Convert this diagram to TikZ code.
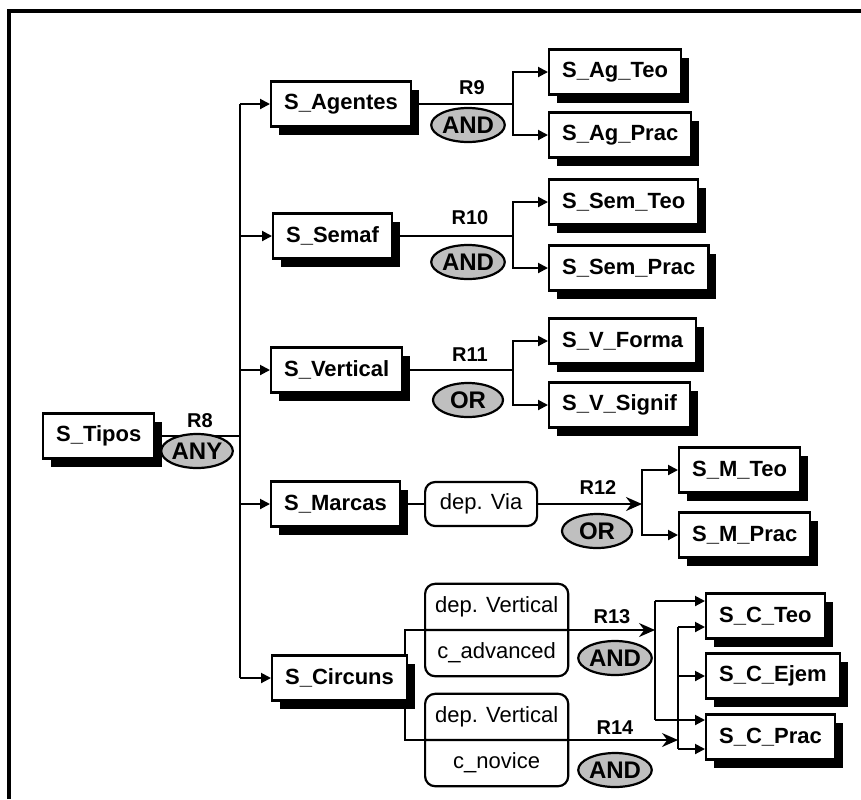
\documentclass[tikz,border=0pt]{standalone}
\usepackage{fontspec}
\setmainfont{Liberation Sans}
\usepackage{tikz}
\usetikzlibrary{arrows.meta,positioning,calc,shapes.geometric,shapes.multipart,shadows}
\tikzset{
  % state box with solid black shadow
  sbox/.style={rectangle, draw, line width=1.1pt, fill=white, minimum height=22.5pt, inner xsep=6.5pt,
               font=\fontsize{11}{13}\selectfont\bfseries,
               drop shadow={shadow xshift=4pt, shadow yshift=-4pt, fill=black, opacity=1}},
  % dependency box
  dbox/.style={rectangle, rounded corners=5pt, draw, line width=1.1pt, fill=white, minimum height=22pt,
               inner xsep=5pt, font=\fontsize{11}{13}\selectfont},
  % two-part dependency box
  dsplit/.style={dbox, rectangle split, rectangle split parts=2, inner ysep=4.5pt},
  % rule operator ellipse
  ruleop/.style={ellipse, draw, line width=1.1pt, fill=black!25, minimum width=35pt, minimum height=17pt,
                 inner sep=0pt, font=\fontsize{12}{14}\selectfont\bfseries},
  % rule label
  rlabel/.style={font=\fontsize{10}{12}\selectfont\bfseries},
  % plain connector
  link/.style={line width=1pt},
  % small arrow
  arr/.style={link, -{Triangle[length=5pt,width=5pt]}},
  % big arrow into a branch bar
  bigarr/.style={link, -{Stealth[length=8pt,width=7pt]}},
}

\begin{document}
\begin{tikzpicture}[x=0.5pt, y=-0.5pt]
  \useasboundingbox (0,0) rectangle (861,799);

  % frame
  \draw[line width=2pt] (9,799) -- (9,11) -- (861,11);

  % ── root and R8 ──
  \node[sbox, anchor=west] (tipos) at (42,436) {S\_Tipos};
  \coordinate (bus) at (240,436);
  \draw[link] (tipos.east) -- (bus);
  \node[rlabel] (r8) at (200,421) {R8};
  \node[ruleop] (any8) at (197,451) {ANY};

  % middle column
  \node[sbox, anchor=west] (agentes) at (270,104) {S\_Agentes};
  \node[sbox, anchor=west] (semaf) at (272,236) {S\_Semaf};
  \node[sbox, anchor=west] (vert) at (270,370) {S\_Vertical};
  \node[sbox, anchor=west] (marcas) at (270,504) {S\_Marcas};
  \node[sbox, anchor=west] (circ) at (271,678) {S\_Circuns};

  \draw[link] (bus |- agentes.west) -- (bus |- circ.west);
  \foreach \n in {agentes,semaf,vert,marcas,circ}
    \draw[arr] (bus |- \n.west) -- (\n.west);

  % ── R9 ──
  \node[sbox, anchor=west] (agteo) at (548,72) {S\_Ag\_Teo};
  \node[sbox, anchor=west] (agprac) at (548,135) {S\_Ag\_Prac};
  \coordinate (b9) at (513,104);
  \draw[link] (agentes.east) -- (b9);
  \draw[arr] (b9) |- (agteo.west);
  \draw[arr] (b9) |- (agprac.west);
  \node[rlabel] (r9) at (472,88) {R9};
  \node[ruleop] (and9) at (468,125) {AND};

  % ── R10 ──
  \node[sbox, anchor=west] (semteo) at (548,202) {S\_Sem\_Teo};
  \node[sbox, anchor=west] (semprac) at (548,268) {S\_Sem\_Prac};
  \coordinate (b10) at (513,236);
  \draw[link] (semaf.east) -- (b10);
  \draw[arr] (b10) |- (semteo.west);
  \draw[arr] (b10) |- (semprac.west);
  \node[rlabel] (r10) at (470,218) {R10};
  \node[ruleop] (and10) at (468,262) {AND};

  % ── R11 ──
  \node[sbox, anchor=west] (vforma) at (548,341) {S\_V\_Forma};
  \node[sbox, anchor=west] (vsignif) at (548,405) {S\_V\_Signif};
  \coordinate (b11) at (513,370);
  \draw[link] (vert.east) -- (b11);
  \draw[arr] (b11) |- (vforma.west);
  \draw[arr] (b11) |- (vsignif.west);
  \node[rlabel] (r11) at (470,355) {R11};
  \node[ruleop] (or11) at (468,400) {OR};

  % ── R12 ──
  \node[dbox, anchor=west, minimum width=56pt] (via) at (424,504) {dep. Via};
  \node[sbox, anchor=west] (mteo) at (678,470) {S\_M\_Teo};
  \node[sbox, anchor=west] (mprac) at (678,535) {S\_M\_Prac};
  \coordinate (b12) at (642,504);
  \draw[link] (marcas.east) -- (via.west);
  \draw[bigarr] (via.east) -- (b12);
  \draw[arr] (b12) |- (mteo.west);
  \draw[arr] (b12) |- (mprac.west);
  \node[rlabel] (r12) at (598,488) {R12};
  \node[ruleop] (or12) at (597,531) {OR};

  % ── R13 and R14 ──
  \node[dsplit, anchor=text split west] (adv) at (424,630) {dep. Vertical\strut \nodepart{two} c\_advanced\strut};
  \node[dsplit, anchor=text split west] (nov) at (424,740) {dep. Vertical\strut \nodepart{two} c\_novice\strut};
  \draw[link, line width=0.7pt] ([xshift=-1.5pt]circ.north east) |- (adv.text split west);
  \draw[link, line width=0.7pt] ([xshift=-1.5pt]circ.south east) |- (nov.text split west);

  \node[sbox, anchor=west] (cteo) at (705,616) {S\_C\_Teo};
  \node[sbox, anchor=west] (cejem) at (705,676) {S\_C\_Ejem};
  \node[sbox, anchor=west] (cprac) at (705,737) {S\_C\_Prac};

  \coordinate (b13) at (655,630);
  \coordinate (b13t) at (655,601);
  \coordinate (b13b) at (655,720);
  \draw[bigarr, line width=0.7pt] (adv.text split east) -- (b13);
  \draw[link] (b13t) -- (b13b);
  \draw[arr] (b13t) -- (b13t -| cteo.west);
  \draw[arr] (b13b) -- (b13b -| cprac.west);
  \node[rlabel] (r13) at (612,617) {R13};
  \node[ruleop] (and13) at (615,658) {AND};

  \coordinate (b14) at (678,740);
  \coordinate (b14t) at (678,627);
  \coordinate (b14b) at (678,749);
  \draw[bigarr, line width=0.7pt] (nov.text split east) -- (b14);
  \draw[link] (b14t) -- (b14b);
  \draw[arr] (b14t) -- (b14t -| cteo.west);
  \draw[arr] (b14 |- cejem.west) -- (cejem.west);
  \draw[arr] (b14b) -- (b14b -| cprac.west);
  \node[rlabel] (r14) at (615,728) {R14};
  \node[ruleop] (and14) at (615,770) {AND};

\end{tikzpicture}
\end{document}
